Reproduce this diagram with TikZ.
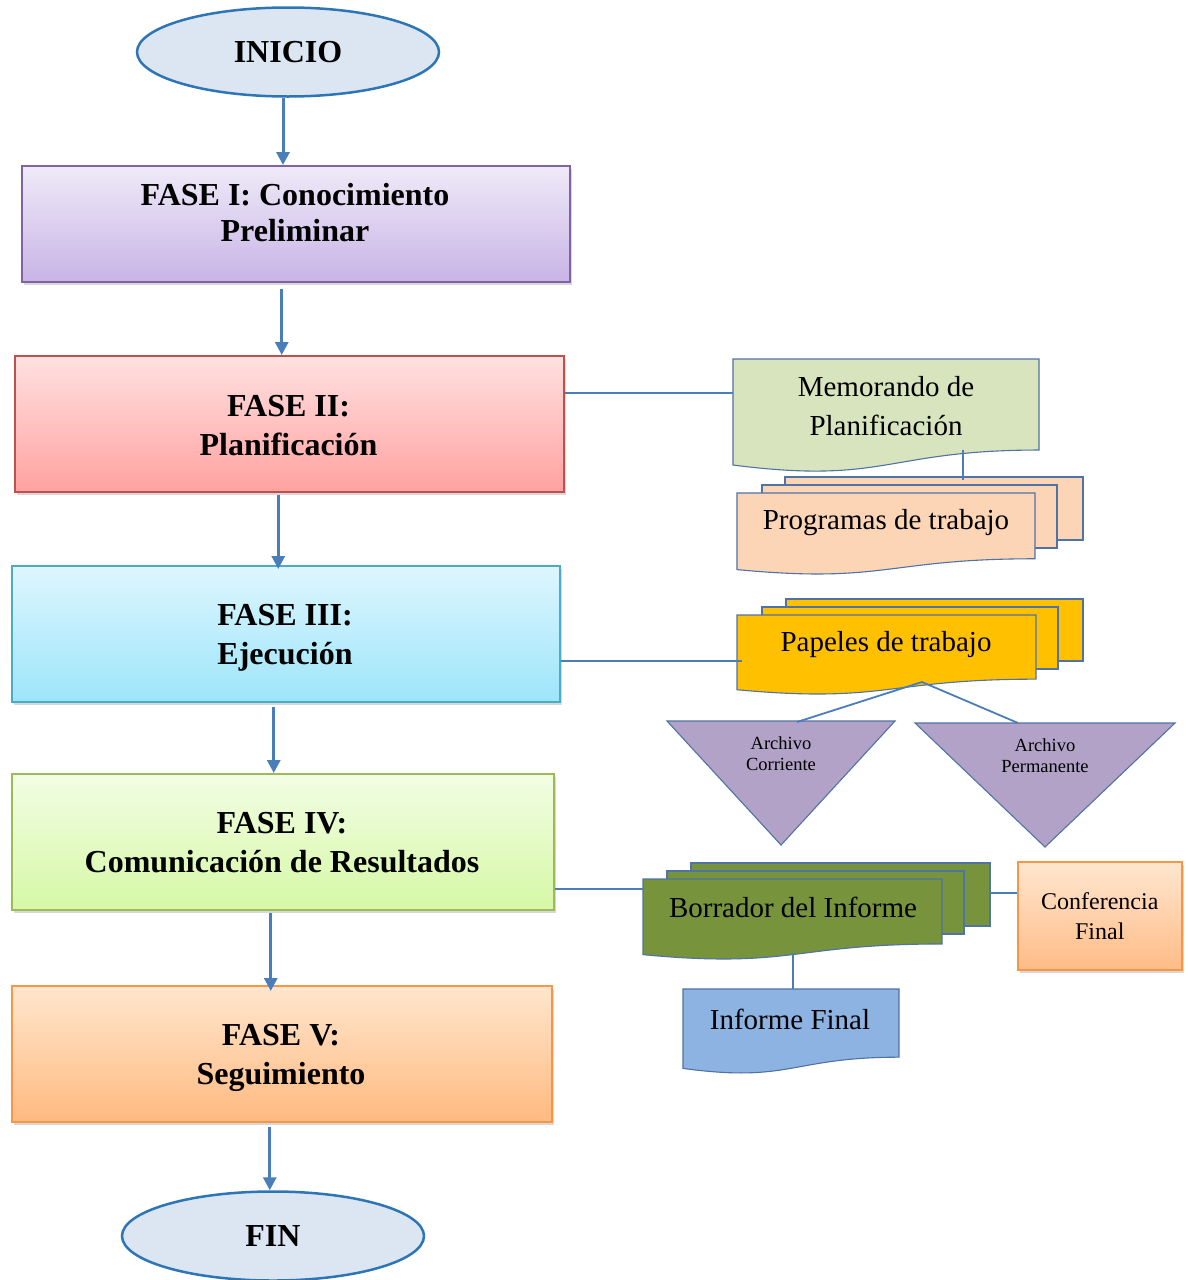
\documentclass[tikz,border=0pt]{standalone}
\usepackage{fontspec}
\setmainfont{Liberation Serif}
\usetikzlibrary{shapes.geometric,arrows.meta,shadows}
\definecolor{conn}{HTML}{4A7EBB}
\definecolor{elfill}{HTML}{DCE6F2}
\definecolor{eldraw}{HTML}{2E75B6}
\definecolor{docdraw}{HTML}{4F73A3}
\definecolor{memofill}{HTML}{D7E4BD}
\definecolor{progfill}{HTML}{FBD5B5}
\definecolor{papfill}{HTML}{FFC000}
\definecolor{borfill}{HTML}{77933C}
\definecolor{inffill}{HTML}{8DB3E2}
\definecolor{trifill}{HTML}{B2A2C7}
\definecolor{phasei}{HTML}{8064A2}
\definecolor{phaseiT}{HTML}{EFEAF8}
\definecolor{phaseiB}{HTML}{C8B4E6}
\definecolor{phaseii}{HTML}{C0504D}
\definecolor{phaseiiT}{HTML}{FFE1E1}
\definecolor{phaseiiB}{HTML}{FFA2A0}
\definecolor{phaseiii}{HTML}{4BACC6}
\definecolor{phaseiiiT}{HTML}{DEF6FE}
\definecolor{phaseiiiB}{HTML}{9DE5FA}
\definecolor{phaseiv}{HTML}{9BBB59}
\definecolor{phaseivT}{HTML}{F2FDE4}
\definecolor{phaseivB}{HTML}{D6F8A6}
\definecolor{phasev}{HTML}{F79646}
\definecolor{phasevT}{HTML}{FFE6CE}
\definecolor{phasevB}{HTML}{FFBA80}
\definecolor{confT}{HTML}{FFE6D0}
\definecolor{confB}{HTML}{FFBC86}
\newcommand\docshape[5]{%
  \draw[docline, fill=#5] (#1,#2) -- ({#1+#3},#2) -- ({#1+#3},{#2+0.802*#4})
    .. controls ({#1+0.5*#3},{#2+0.802*#4}) and ({#1+0.5*#3},{#2+1.108*#4}) .. (#1,{#2+0.934*#4}) -- cycle;}
\begin{document}
\begin{tikzpicture}[x=1pt,y=-1pt,
  fase/.style={draw, line width=1.5pt, shading=axis, anchor=north west,
    drop shadow={shadow xshift=2pt, shadow yshift=-3pt, opacity=0.3}},
  fasetext/.style={align=center, font=\fontsize{32}{39}\selectfont\bfseries},
  term/.style={ellipse, draw=eldraw, line width=2.5pt, fill=elfill,
    minimum width=302, minimum height=89, font=\fontsize{32}{38}\selectfont\bfseries},
  arr/.style={draw=conn, line width=3pt, -{Triangle[length=13pt,width=13pt]}},
  conn/.style={draw=conn, line width=1.8pt},
  docline/.style={draw=docdraw, line width=1.1pt},
  doctext/.style={align=center, font=\fontsize{29}{39}\selectfont},
  tri/.style={draw=docdraw, line width=1.1pt, fill=trifill},
  tritext/.style={align=center, font=\fontsize{18.5}{21}\selectfont}]
\useasboundingbox[fill=white] (0,0) rectangle (1187,1280);

% terminals
\node[term] (ini) at (288,52) {INICIO};
\node[term] (fin) at (273,1236) {FIN};

% phases
\node[fase, draw=phasei, top color=phaseiT, bottom color=phaseiB, minimum width=548, minimum height=116]
  (f1) at (21,165) {};
\node[fasetext] (f1t) at (295,213) {FASE I: Conocimiento\\[-3pt]Preliminar};
\node[fase, draw=phaseii, top color=phaseiiT, bottom color=phaseiiB, minimum width=549, minimum height=136]
  (f2) at (14,355) {};
\node[fasetext] (f2t) at (288.5,425.5) {FASE II:\\Planificación};
\node[fase, draw=phaseiii, top color=phaseiiiT, bottom color=phaseiiiB, minimum width=548, minimum height=136]
  (f3) at (11,565) {};
\node[fasetext] (f3t) at (285,638) {FASE III:\\Ejecución};
\node[fase, draw=phaseiv, top color=phaseivT, bottom color=phaseivB, minimum width=542, minimum height=136]
  (f4) at (11,773) {};
\node[fasetext] (f4t) at (282,843) {FASE IV:\\Comunicación de Resultados};
\node[fase, draw=phasev, top color=phasevT, bottom color=phasevB, minimum width=540, minimum height=136]
  (f5) at (11,985) {};
\node[fasetext] (f5t) at (281,1058) {FASE V:\\Seguimiento};

% main arrows
\draw[arr] ([xshift=-5pt]ini.south) -- ([xshift=-5pt]ini.south |- f1.north);
\draw[arr] ([xshift=-14pt,yshift=-6pt]f1.south) -- ([xshift=-14pt]f1.south |- f2.north);
\draw[arr] ([xshift=-11pt,yshift=-2pt]f2.south) -- ([xshift=-11pt,yshift=-4pt]f2.south |- f3.north);
\draw[arr] ([xshift=-12pt,yshift=-4pt]f3.south) -- ([xshift=-12pt]f3.south |- f4.north);
\draw[arr] ([xshift=-12pt,yshift=-2pt]f4.south) -- ([xshift=-12pt,yshift=-6pt]f4.south |- f5.north);
\draw[arr] ([xshift=-12pt,yshift=-4pt]f5.south) -- ([xshift=-12pt]f5.south |- fin.north);

% Memorando
\docshape{733}{359}{306}{113.5}{memofill}
\node[doctext] (memo) at (886,406) {Memorando de\\Planificación};
\coordinate (memoL) at (733,393);
\coordinate (memoB) at (963,450);

% Programas de trabajo
\draw[docline, fill=progfill] (785,477) rectangle (1083,540);
\draw[docline, fill=progfill] (762,485) rectangle (1057,548);
\docshape{737}{493}{298}{82}{progfill}
\node[doctext] (prog) at (886,523) {Programas de trabajo};
\coordinate (progT) at (963,480);

% Papeles de trabajo
\draw[docline, fill=papfill] (786,599) rectangle (1083,661);
\draw[docline, fill=papfill] (762,607) rectangle (1058,669);
\docshape{737}{615}{299}{80}{papfill}
\node[doctext] (pap) at (886,645) {Papeles de trabajo};
\coordinate (papL) at (742,661);
\coordinate (papB) at (922,682);

% Archivos
\draw[tri] (667,721) -- (895,721) -- (781,845) -- cycle;
\node[tritext] (ac) at (781,754) {Archivo\\Corriente};
\coordinate (acT) at (797,722);
\draw[tri] (915,723) -- (1175,723) -- (1045,847) -- cycle;
\node[tritext] (ap) at (1045,756) {Archivo\\Permanente};
\coordinate (apT) at (1018,723);

% Borrador del Informe
\draw[docline, fill=borfill] (691,863) rectangle (990,926);
\draw[docline, fill=borfill] (667,871) rectangle (964,934);
\docshape{643}{879}{299}{81}{borfill}
\node[doctext] (bor) at (793,907) {Borrador del Informe};
\coordinate (borL) at (643,889);
\coordinate (borR) at (990,893);
\coordinate (borB) at (793,953);

% Conferencia Final
\node[draw=phasev, line width=1.5pt, shading=axis, top color=confT, bottom color=confB,
  anchor=north west, minimum width=164, minimum height=108, align=center,
  font=\fontsize{24}{30}\selectfont,
  drop shadow={shadow xshift=2pt, shadow yshift=-3pt, opacity=0.3}]
  (conf) at (1017,861) {Conferencia\\Final};

% Informe Final
\docshape{683}{989}{216}{85}{inffill}
\node[doctext] (inf) at (790,1019) {Informe Final};
\coordinate (infT) at (793,989);

% connectors
\draw[conn] (f2.east |- memoL) -- (memoL);
\draw[conn] (memoB) -- (progT);
\draw[conn] (f3.east |- papL) -- (papL);
\draw[conn] (papB) -- (acT);
\draw[conn] (papB) -- (apT);
\draw[conn] (f4.east |- borL) -- (borL);
\draw[conn] (borR) -- (conf.west |- borR);
\draw[conn] (borB) -- (infT);
\end{tikzpicture}
\end{document}
